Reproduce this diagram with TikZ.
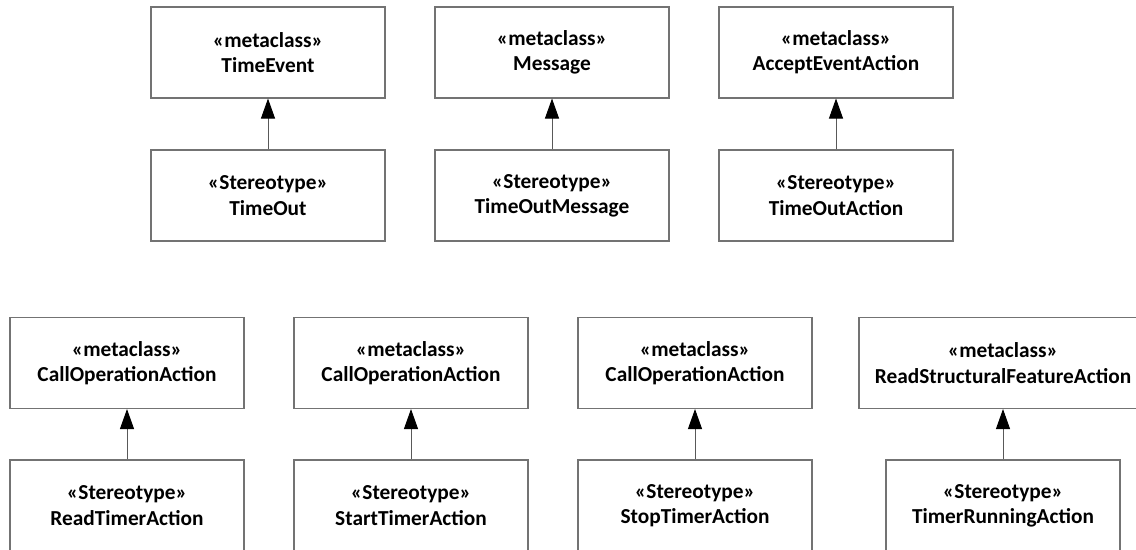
\documentclass[tikz,border=0pt]{standalone}
\usepackage{fontspec}
\setmainfont{Carlito}
\usetikzlibrary{arrows.meta}
\tikzset{
  umlbox/.style={draw=black!55, line width=0.8pt, fill=white, minimum width=175.5pt, minimum height=68.25pt, inner sep=2pt, align=center, font=\fontsize{16}{19}\selectfont\bfseries},
  wide/.style={minimum width=216pt},
  gen/.style={draw=black!65, line width=0.7pt, -{Triangle[width=10.5pt,length=15pt,color=black,fill=black]}}
}
\begin{document}
\begin{tikzpicture}[x=0.75pt,y=-0.75pt]
\useasboundingbox (0,0) rectangle (1136,550);
% top row
\node[umlbox] (te) at (268,52.5) {«metaclass»\\TimeEvent};
\node[umlbox] (to) at (268,195.5) {«Stereotype»\\TimeOut};
\node[umlbox] (msg) at (552,52.5) {«metaclass»\\Message};
\node[umlbox] (tom) at (552,195.5) {«Stereotype»\\TimeOutMessage};
\node[umlbox] (aea) at (836,52.5) {«metaclass»\\AcceptEventAction};
\node[umlbox] (toa) at (836,195.5) {«Stereotype»\\TimeOutAction};
% bottom row
\node[umlbox] (coa1) at (127,363) {«metaclass»\\CallOperationAction};
\node[umlbox] (rta) at (127,505.5) {«Stereotype»\\ReadTimerAction};
\node[umlbox] (coa2) at (411,363) {«metaclass»\\CallOperationAction};
\node[umlbox] (sta) at (411,505.5) {«Stereotype»\\StartTimerAction};
\node[umlbox] (coa3) at (695,363) {«metaclass»\\CallOperationAction};
\node[umlbox] (spa) at (695,505.5) {«Stereotype»\\StopTimerAction};
\node[umlbox, wide] (rsfa) at (1003,363) {«metaclass»\\ReadStructuralFeatureAction};
\node[umlbox] (tra) at (1003,505.5) {«Stereotype»\\TimerRunningAction};
% generalizations
\draw[gen] (to) -- (te);
\draw[gen] (tom) -- (msg);
\draw[gen] (toa) -- (aea);
\draw[gen] (rta) -- (coa1);
\draw[gen] (sta) -- (coa2);
\draw[gen] (spa) -- (coa3);
\draw[gen] (tra) -- (rsfa);
\end{tikzpicture}
\end{document}
